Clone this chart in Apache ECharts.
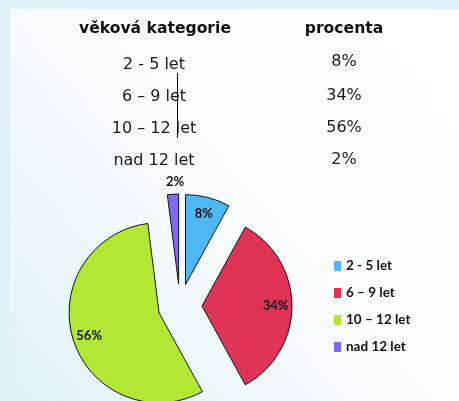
<!DOCTYPE html>
<html>
<head>
<meta charset="utf-8">
<script src="https://cdn.jsdelivr.net/npm/echarts@6/dist/echarts.min.js"></script>
<style>
  html, body { margin: 0; padding: 0; background: #dcf0f5; }
  #chart { width: 459px; height: 401px; }
</style>
</head>
<body>
<div id="chart"></div>
<script>
// data
var categories = ['2 - 5 let', '6 – 9 let', '10 – 12 let', 'nad 12 let'];
var percents = [8, 34, 56, 2];
var colors = ['#4db8f5', '#e03456', '#b2e833', '#7b6cf6'];
var headers = ['věková kategorie', 'procenta'];

var myChart = echarts.init(document.getElementById('chart'));

var pieData = categories.map(function (name, i) {
    return {name: name, value: percents[i], selected: true, itemStyle: {color: colors[i]}};
});
// label series: same slices, transparent, only used to place the labels further out
var labelData = categories.map(function (name, i) {
    var item = {name: name, value: percents[i], selected: true};
    if (percents[i] < 5) {
        item.label = {position: 'outside', distanceToLabelLine: -12};
        item.labelLine = {show: false, length: 12, length2: 0};
    }
    return item;
});

// table on top
var tableText = [];
var rowY = [65, 97, 129, 161];
tableText.push({type: 'text', x: 155, y: 29, style: {text: headers[0], font: 'bold 15.6px "DejaVu Sans"', fill: '#111', textAlign: 'center', textVerticalAlign: 'middle'}});
tableText.push({type: 'text', x: 344, y: 29, style: {text: headers[1], font: 'bold 15.6px "DejaVu Sans"', fill: '#111', textAlign: 'center', textVerticalAlign: 'middle'}});
categories.forEach(function (c, i) {
    tableText.push({type: 'text', x: 154, y: rowY[i], style: {text: c, font: '16px "DejaVu Sans"', fill: '#1a1a1a', textAlign: 'center', textVerticalAlign: 'middle'}});
    tableText.push({type: 'text', x: 344, y: rowY[i] - (i === 0 ? 3 : 1), style: {text: percents[i] + '%', font: '16px "DejaVu Sans"', fill: '#1a1a1a', textAlign: 'center', textVerticalAlign: 'middle'}});
});

var option = {
    backgroundColor: '#dcf0f5',
    color: colors,
    animation: false,
    graphic: [
        {
            type: 'rect', z: -10, shape: {x: 10, y: 9, width: 449, height: 392},
            style: {fill: new echarts.graphic.LinearGradient(1, 0, 0, 1, [
                {offset: 0, color: '#ffffff'},
                {offset: 0.45, color: '#fbfdfe'},
                {offset: 1, color: '#e0f2f7'}
            ])}
        },
        {type: 'line', shape: {x1: 177.5, y1: 73, x2: 177.5, y2: 138}, style: {stroke: '#000', lineWidth: 1}}
    ].concat(tableText),
    legend: {
        orient: 'vertical',
        left: 334,
        top: 259,
        padding: 0,
        icon: 'rect',
        itemWidth: 7,
        itemHeight: 10,
        itemGap: 13,
        selectedMode: false,
        itemStyle: {borderWidth: 0},
        textStyle: {fontFamily: 'Lato', fontWeight: 'bold', fontSize: 13.5, color: '#111', lineHeight: 14},
        data: categories
    },
    series: [
        {
            name: 'věková kategorie',
            type: 'pie',
            center: [180, 306],
            radius: 90,
            startAngle: 90,
            selectedMode: 'multiple',
            selectedOffset: 22,
            silent: true,
            itemStyle: {borderColor: '#111', borderWidth: 1},
            select: {itemStyle: {borderColor: '#111', borderWidth: 1}},
            emphasis: {disabled: true},
            label: {show: false},
            labelLine: {show: false},
            data: pieData
        },
        {
            name: 'labels',
            type: 'pie',
            center: [180, 306],
            radius: [51, 90],
            startAngle: 90,
            selectedMode: 'multiple',
            selectedOffset: 22,
            silent: true,
            z: 3,
            itemStyle: {color: 'rgba(0,0,0,0)', borderWidth: 0},
            select: {itemStyle: {color: 'rgba(0,0,0,0)', borderWidth: 0}},
            emphasis: {disabled: true},
            label: {
                show: true,
                position: 'inside',
                formatter: '{c}%',
                fontFamily: 'Lato',
                fontWeight: 'bold',
                fontSize: 13,
                color: '#111'
            },
            labelLine: {show: false},
            legendHoverLink: false,
            data: labelData
        }
    ]
};

myChart.setOption(option, true);
</script>
</body>
</html>
